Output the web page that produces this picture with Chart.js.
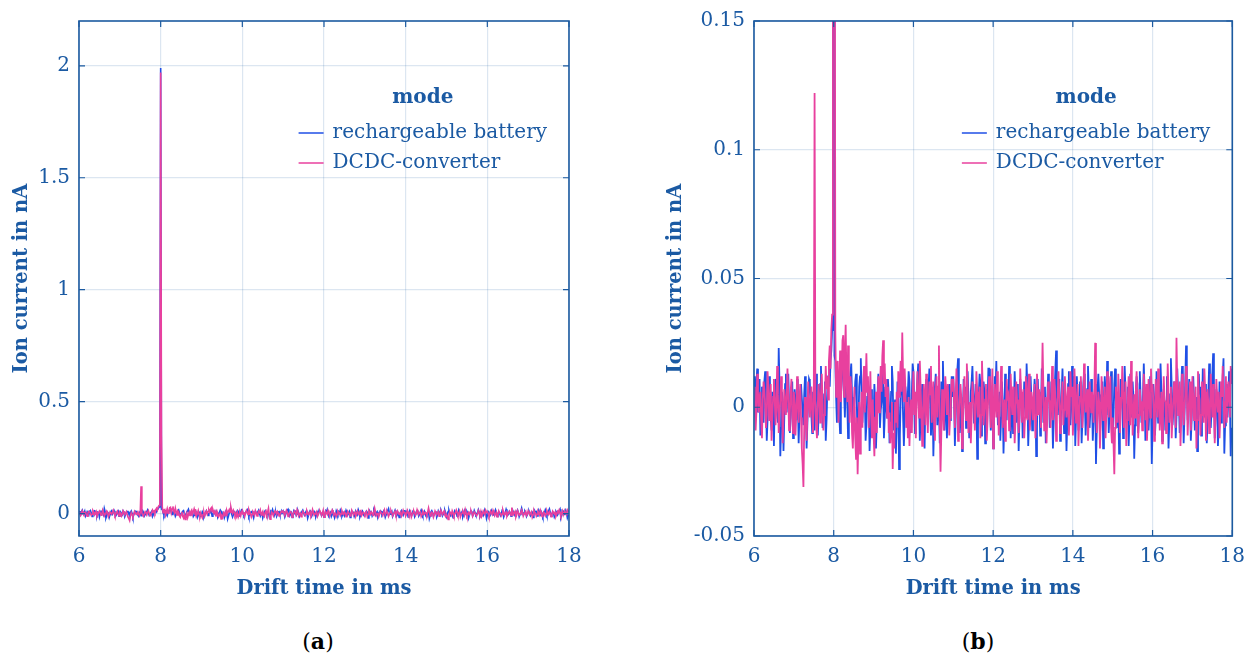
<!DOCTYPE html>
<html>
<head>
<meta charset="utf-8">
<title>Ion current vs drift time</title>
<script src="https://cdn.jsdelivr.net/npm/chart.js@4.4.1/dist/chart.umd.min.js"></script>
<style>
  html, body { margin: 0; padding: 0; background: #fff; }
  #wrap { position: relative; width: 1254px; height: 660px; overflow: hidden; }
  canvas { position: absolute; top: 0; }
  #chartA { left: 0; }
  #chartB { left: 627px; }
  .caption { position: absolute; top: 628px; width: 80px; text-align: center;
             font: 22px 'DejaVu Serif'; color: #000; }
</style>
</head>
<body>
<div id="wrap">
  <canvas id="chartA" width="627" height="610"></canvas>
  <canvas id="chartB" width="627" height="610"></canvas>
  <div class="caption" style="left:278px">(<b>a</b>)</div>
  <div class="caption" style="left:938px">(<b>b</b>)</div>
</div>
<script>
// Sampling of the drift time axis (ms), one row below = 0.5 ms
const driftStart = 6.0;
const driftStep = 0.02;

// Ion current in nA, rechargeable battery supply
const batteryCurrent = [
  0.012, 0.004, -0.004, 0.009, 0.015, -0.002, 0.002, 0.011, -0.011, -0.003, 0.008, 0.001, -0.006, 0.010, 0.014, 0.003, -0.013, -0.005, 0.005, 0.012, 0.010, -0.004, -0.009, 0.006, 0.003,
  -0.015, 0.002, 0.011, 0.007, 0.002, -0.006, 0.023, 0.009, -0.019, -0.008, 0.006, 0.001, -0.017, -0.004, 0.009, 0.013, -0.002, 0.005, 0.013, 0.002, -0.010, -0.003, 0.004, 0.010, -0.012,
  -0.006, 0.007, 0.001, -0.005, 0.011, 0.004, -0.014, -0.003, 0.003, 0.009, 0.009, -0.002, -0.007, 0.005, 0.012, 0.001, -0.016, -0.006, 0.004, 0.011, 0.010, 0.002, -0.003, -0.010, 0.006,
  0.002, -0.009, 0.004, 0.013, 0.005, -0.011, -0.004, 0.002, 0.009, 0.016, 0.003, -0.008, -0.002, 0.005, 0.010, -0.013, -0.005, 0.007, 0.012, 0.015, 0.008, 0.018, 0.022, 0.030, 0.035,
  1.990, 0.020, 0.018, 0.004, -0.006, 0.010, 0.012, -0.003, -0.010, 0.005, 0.009, 0.016, 0.020, 0.006, -0.004, 0.008, 0.014, 0.002, -0.012, -0.004, 0.006, 0.013, 0.017, 0.004, -0.009,
  -0.002, 0.003, 0.010, 0.013, 0.001, -0.015, -0.006, 0.008, 0.012, 0.019, 0.004, -0.006, 0.002, 0.011, 0.006, -0.013, -0.007, 0.004, 0.010, 0.003, -0.017, -0.008, 0.007, 0.002, -0.011,
  -0.005, 0.009, 0.002, -0.016, -0.006, 0.005, 0.013, 0.006, -0.008, -0.001, 0.002, 0.015, 0.008, -0.012, -0.004, 0.007, 0.001, -0.004, 0.011, 0.005, -0.014, -0.006, 0.006, 0.016, 0.010,
  -0.009, -0.002, 0.003, -0.018, -0.007, 0.010, 0.004, -0.024, -0.011, 0.004, 0.009, 0.012, -0.003, -0.015, -0.005, 0.008, 0.003, -0.006, 0.005, 0.014, 0.010, -0.010, -0.002, 0.005, 0.017,
  0.014, 0.001, -0.010, -0.003, 0.005, 0.011, 0.017, 0.004, -0.013, -0.004, 0.002, 0.009, 0.009, -0.007, -0.016, 0.003, 0.011, 0.005, -0.004, 0.008, 0.015, 0.002, -0.011, -0.002, 0.006,
  -0.019, -0.006, 0.008, 0.013, 0.004, -0.007, 0.001, 0.003, -0.014, -0.003, 0.010, 0.006, 0.018, 0.005, -0.009, 0.002, 0.005, -0.012, -0.002, 0.007, 0.009, -0.005, -0.003, 0.012, 0.004,
  0.012, 0.003, -0.015, -0.004, 0.008, 0.014, 0.019, 0.006, -0.010, -0.002, 0.004, -0.017, -0.006, 0.011, 0.002, 0.008, -0.008, -0.001, 0.014, 0.004, -0.012, -0.003, 0.006, 0.010, 0.016,
  0.005, -0.006, 0.002, 0.009, 0.004, -0.020, -0.007, 0.005, 0.013, 0.009, -0.011, -0.002, 0.003, 0.010, 0.006, -0.014, -0.004, 0.007, 0.001, 0.015, 0.015, 0.004, -0.009, -0.001, 0.004,
  -0.016, -0.005, 0.012, 0.006, 0.018, 0.003, -0.007, 0.001, 0.006, -0.013, -0.004, 0.010, 0.002, -0.018, -0.006, 0.013, 0.004, -0.005, 0.008, 0.002, 0.016, 0.007, -0.012, -0.003, 0.003,
  -0.010, -0.001, 0.014, 0.005, -0.006, 0.002, 0.009, -0.017, -0.005, 0.011, 0.003, 0.005, -0.012, -0.002, 0.010, 0.004, -0.004, 0.017, 0.007, -0.015, -0.005, 0.007, 0.012, 0.003, -0.009,
  -0.003, 0.003, 0.011, 0.006, -0.019, -0.008, 0.011, 0.002, 0.006, -0.011, -0.003, 0.015, 0.005, -0.006, 0.003, 0.008, -0.014, -0.004, 0.004, 0.013, 0.010, -0.008, -0.002, 0.010, 0.001,
  -0.016, -0.005, 0.005, 0.014, 0.022, 0.004, -0.003, 0.007, 0.011, -0.013, -0.004, 0.006, 0.015, 0.002, -0.010, -0.002, 0.002, -0.017, -0.006, 0.009, 0.014, 0.003, -0.007, 0.004, 0.016,
  -0.005, 0.008, 0.012, -0.015, -0.004, 0.012, 0.003, -0.009, -0.002, 0.010, 0.006, -0.014, -0.005, 0.008, 0.013, 0.004, -0.011, -0.003, 0.007, 0.016, 0.006, -0.008, -0.001, 0.011, 0.003,
  -0.013, -0.005, 0.004, 0.009, -0.022, -0.009, 0.007, 0.013, 0.005, -0.011, -0.003, 0.005, 0.010, -0.016, -0.006, 0.012, 0.004, -0.003, 0.018, 0.006, -0.010, -0.002, 0.006, 0.014, 0.003,
  -0.014, -0.004, 0.009, 0.015, 0.002, -0.008, -0.001, 0.002, -0.018, -0.006, 0.011, 0.004, 0.004, -0.012, -0.003, 0.016, 0.007, -0.006, 0.001, 0.008, -0.015, -0.005, 0.013, 0.004, -0.004,
  0.010, 0.003, -0.020, -0.007, 0.006, 0.012, 0.009, -0.010, -0.002, 0.014, 0.004, -0.006, -0.001, 0.004, 0.017, 0.006, -0.013, -0.004, 0.007, 0.002, -0.009, -0.001, 0.012, 0.003, -0.022,
  -0.008, 0.009, 0.003, -0.011, -0.004, 0.014, 0.006, -0.006, 0.001, 0.004, 0.017, 0.007, -0.013, -0.004, 0.007, 0.002, -0.009, -0.001, 0.012, 0.005, -0.016, -0.006, 0.005, 0.019, 0.008,
  -0.007, -0.002, 0.010, 0.004, -0.012, -0.004, 0.015, 0.006, 0.003, -0.010, -0.003, 0.008, 0.016, 0.005, -0.014, -0.004, 0.010, 0.024, 0.007, -0.005, 0.002, 0.011, 0.004, -0.013, -0.005,
  0.006, 0.012, 0.003, -0.009, -0.002, 0.004, -0.017, -0.006, 0.013, 0.005, 0.008, -0.011, -0.003, 0.015, 0.006, -0.004, 0.009, 0.002, -0.014, -0.005, 0.005, 0.017, 0.007, -0.008, -0.001,
  0.013, 0.021, 0.006, -0.012, -0.003, 0.007, 0.003, -0.015, -0.006, 0.010, 0.004, -0.006, 0.002, 0.012, 0.019, -0.018, -0.007, 0.004, 0.009, -0.004, 0.002, 0.014, 0.003, -0.019, -0.008,
  -0.010
];

// Ion current in nA, DCDC-converter supply
const converterCurrent = [
  0.008, 0.001, -0.009, -0.002, 0.013, 0.006, -0.002, 0.004, 0.006, -0.005, -0.012, 0.003, 0.010, 0.007, 0.001, -0.008, -0.003, 0.014, 0.008, -0.005, 0.002, 0.009, -0.013, -0.004, 0.004,
  0.011, 0.003, -0.007, -0.001, 0.016, 0.005, -0.010, -0.002, 0.003, 0.012, 0.006, -0.014, -0.005, 0.007, 0.002, -0.003, 0.005, 0.015, 0.004, -0.009, -0.002, 0.006, 0.011, -0.004, -0.010,
  0.006, 0.001, -0.011, -0.003, 0.012, 0.004, -0.006, 0.002, 0.009, -0.004, -0.016, -0.022, -0.031, -0.008, 0.004, -0.005, -0.013, -0.002, 0.010, 0.003, -0.004, 0.002, 0.008, -0.003, -0.010,
  0.004, 0.122, 0.002, -0.007, -0.012, 0.001, 0.009, 0.003, -0.006, 0.005, 0.013, 0.002, -0.009, -0.003, 0.004, 0.016, 0.007, 0.012, 0.003, 0.018, 0.024, 0.015, 0.030, 0.036, 0.045,
  1.970, 0.350, 0.030, 0.004, 0.016, 0.018, -0.006, 0.008, 0.022, 0.002, 0.010, 0.026, 0.028, 0.004, 0.020, 0.032, 0.011, 0.002, 0.024, 0.008, -0.006, 0.012, 0.008, -0.010, -0.016,
  -0.004, 0.008, -0.012, -0.020, -0.004, -0.026, -0.012, 0.002, -0.018, -0.004, 0.006, -0.008, 0.010, 0.016, -0.002, 0.008, 0.021, 0.006, 0.012, -0.008, 0.002, 0.014, -0.004, -0.012, 0.003,
  -0.010, -0.019, -0.004, 0.006, -0.010, 0.003, 0.012, -0.002, 0.008, 0.016, 0.006, 0.020, 0.026, 0.009, 0.017, 0.004, 0.011, -0.004, 0.008, -0.010, -0.002, -0.014, -0.006, 0.002, -0.024,
  -0.010, -0.016, 0.002, -0.006, 0.006, -0.008, 0.014, 0.004, 0.010, 0.018, 0.006, 0.029, 0.012, 0.002, 0.015, 0.006, -0.008, 0.002, -0.012, 0.004, -0.015, -0.004, 0.003, -0.010, 0.006,
  0.014, -0.003, 0.006, -0.012, 0.002, 0.014, 0.006, -0.004, 0.018, 0.008, -0.002, -0.015, -0.004, 0.009, 0.003, -0.007, 0.013, 0.004, -0.010, 0.001, 0.010, 0.005, 0.016, -0.006, 0.003,
  0.010, -0.008, -0.013, 0.006, 0.012, -0.004, 0.008, 0.024, -0.006, -0.025, -0.010, 0.007, 0.001, -0.009, 0.004, 0.012, 0.006, -0.003, 0.009, 0.002, -0.011, -0.004, 0.004, 0.011, 0.006,
  0.011, 0.002, -0.008, 0.004, 0.015, 0.006, -0.013, -0.004, 0.003, 0.009, 0.004, -0.016, -0.005, 0.006, 0.012, 0.002, -0.005, 0.017, 0.008, -0.010, -0.002, 0.002, -0.014, -0.004, 0.010,
  0.005, 0.001, -0.009, -0.002, 0.014, 0.006, -0.004, 0.002, 0.008, -0.012, -0.003, 0.018, 0.007, -0.007, -0.001, 0.003, 0.009, -0.013, -0.005, 0.006, 0.012, 0.004, -0.008, 0.002, 0.015,
  -0.016, -0.006, 0.009, 0.002, -0.004, 0.014, 0.005, -0.011, -0.003, 0.006, 0.016, 0.007, -0.008, -0.001, 0.003, -0.013, -0.004, 0.011, 0.004, 0.005, -0.009, -0.002, 0.013, 0.003, -0.003,
  0.008, 0.002, -0.014, -0.005, 0.010, 0.003, 0.001, -0.010, -0.003, 0.015, 0.006, -0.006, 0.002, 0.007, -0.012, -0.004, 0.012, 0.004, -0.005, 0.009, 0.013, -0.009, -0.002, 0.006, 0.003,
  -0.005, 0.004, 0.009, -0.012, -0.003, 0.013, 0.005, -0.003, 0.007, 0.002, -0.008, 0.006, 0.025, 0.008, -0.009, -0.002, 0.004, -0.014, -0.004, 0.010, 0.003, 0.002, -0.008, 0.005, 0.016,
  -0.005, 0.003, 0.011, 0.002, -0.013, -0.004, 0.006, 0.014, 0.004, -0.010, -0.002, 0.003, 0.010, -0.007, -0.001, 0.012, 0.005, -0.004, 0.002, 0.008, -0.011, -0.003, 0.014, 0.004, 0.008,
  -0.011, -0.003, 0.015, 0.006, -0.006, 0.002, 0.009, -0.015, -0.005, 0.004, 0.012, 0.003, -0.008, -0.001, 0.017, 0.006, -0.002, 0.003, 0.007, -0.013, -0.004, 0.010, 0.003, -0.002, 0.006,
  0.003, -0.006, 0.008, 0.025, 0.007, -0.010, -0.002, 0.006, 0.002, -0.016, -0.005, 0.012, 0.004, -0.005, 0.002, 0.008, -0.012, -0.003, 0.014, 0.004, -0.004, 0.006, 0.012, -0.008, -0.014,
  -0.004, -0.014, -0.026, -0.008, 0.008, 0.002, -0.006, 0.013, 0.004, -0.010, -0.002, 0.004, 0.016, 0.006, -0.008, -0.001, 0.010, -0.015, -0.005, 0.003, 0.012, 0.004, -0.007, 0.018, 0.005,
  -0.011, -0.003, 0.005, -0.004, 0.006, 0.014, 0.004, -0.012, -0.003, 0.007, 0.002, 0.002, -0.009, -0.002, 0.013, 0.004, -0.005, 0.009, -0.013, -0.004, 0.011, 0.003, -0.004, 0.015, 0.006,
  0.009, 0.002, -0.013, -0.004, 0.011, 0.004, -0.004, 0.015, 0.006, -0.009, -0.002, 0.006, -0.014, -0.004, 0.012, 0.003, 0.002, -0.010, -0.002, 0.017, 0.006, -0.006, 0.001, 0.008, -0.012,
  -0.004, 0.003, 0.010, 0.002, -0.008, 0.027, 0.009, -0.003, 0.004, 0.010, -0.015, -0.005, 0.013, 0.004, -0.007, -0.001, 0.005, 0.016, 0.006, -0.011, -0.002, 0.004, 0.010, -0.009, -0.003,
  0.012, 0.004, -0.005, 0.002, 0.008, -0.016, -0.005, 0.014, 0.005, 0.003, -0.011, -0.003, 0.010, 0.003, -0.006, 0.015, 0.006, -0.013, -0.004, 0.007, 0.001, -0.010, -0.002, 0.013, 0.004,
  -0.004, 0.009, 0.002, -0.014, -0.004, 0.011, 0.004, -0.002, 0.006, -0.012, -0.003, 0.010, 0.004, 0.016, 0.006, -0.008, 0.002, 0.012, -0.006, 0.004, 0.010, 0.003, -0.004, 0.016, 0.009,
  0.015
];

const seriesLabels = ['rechargeable battery', 'DCDC-converter'];
const legendTitle = 'mode';

const xTicks = [6, 8, 10, 12, 14, 16, 18];
const yTicksA = [0, 0.5, 1, 1.5, 2];
const yTickLabelsA = ['0', '0.5', '1', '1.5', '2'];
const yTicksB = [-0.05, 0, 0.05, 0.1, 0.15];
const yTickLabelsB = ['-0.05', '0', '0.05', '0.1', '0.15'];

const AXIS_COLOR = '#1c5aa0';
const TEXT_COLOR = '#1b5aa3';
const GRID_COLOR = 'rgba(40, 100, 170, 0.16)';
const BLUE = '#1f4fe6';
const PINK = '#e8409e';
const FONT = "'DejaVu Serif'";

Chart.defaults.font.family = FONT;

function toPoints(values) {
    return values.map(function(v, i) {
        return { x: +(driftStart + i * driftStep).toFixed(2), y: v };
    });
}

// Box around the plot area with inward tick marks on all four sides
const framePlugin = {
    id: 'frame',
    afterDatasetsDraw(chart) {
        const { ctx, chartArea: a, scales } = chart;
        const len = 6;
        ctx.save();
        ctx.strokeStyle = AXIS_COLOR;
        ctx.lineWidth = 1.2;
        ctx.beginPath();
        scales.x.ticks.forEach(function(t) {
            const px = scales.x.getPixelForValue(t.value);
            ctx.moveTo(px, a.bottom); ctx.lineTo(px, a.bottom - len);
            ctx.moveTo(px, a.top); ctx.lineTo(px, a.top + len);
        });
        scales.y.ticks.forEach(function(t) {
            const py = scales.y.getPixelForValue(t.value);
            ctx.moveTo(a.left, py); ctx.lineTo(a.left + len, py);
            ctx.moveTo(a.right, py); ctx.lineTo(a.right - len, py);
        });
        ctx.stroke();
        ctx.lineWidth = 1.6;
        ctx.strokeRect(a.left, a.top, a.right - a.left, a.bottom - a.top);
        ctx.restore();
    }
};

// Boxless legend in the upper right corner with a bold title
const modeLegendPlugin = {
    id: 'modeLegend',
    afterDraw(chart) {
        const { ctx, chartArea: a } = chart;
        const sets = chart.data.datasets;
        ctx.save();
        ctx.font = '20px ' + FONT;
        const textW = Math.max.apply(null, sets.map(function(d) { return ctx.measureText(d.label).width; }));
        const textX = a.right - 22 - textW;
        const lineX = textX - 9 - 25;
        ctx.textBaseline = 'middle';
        ctx.fillStyle = TEXT_COLOR;
        sets.forEach(function(d, i) {
            const yy = a.top + 112 + i * 30;
            ctx.strokeStyle = d.borderColor;
            ctx.lineWidth = 1.5;
            ctx.beginPath();
            ctx.moveTo(lineX, yy);
            ctx.lineTo(lineX + 25, yy);
            ctx.stroke();
            ctx.fillText(d.label, textX, yy);
        });
        ctx.font = 'bold 20px ' + FONT;
        ctx.textAlign = 'center';
        ctx.fillText(legendTitle, (lineX + textX + textW) / 2, a.top + 77);
        ctx.restore();
    }
};

function makeChart(canvasId, cfg) {
    const canvas = document.getElementById(canvasId);
    if (!canvas) {
        console.error('Canvas not found: ' + canvasId);
        return null;
    }
    return new Chart(canvas.getContext('2d'), {
        type: 'line',
        data: {
            datasets: [
                {
                    label: seriesLabels[0],
                    data: toPoints(batteryCurrent),
                    borderColor: BLUE,
                    borderWidth: cfg.lineWidth,
                    order: 2
                },
                {
                    label: seriesLabels[1],
                    data: toPoints(converterCurrent),
                    borderColor: PINK,
                    borderWidth: cfg.lineWidth,
                    order: 1
                }
            ]
        },
        options: {
            responsive: false,
            animation: false,
            events: [],
            layout: { padding: { top: 19, right: cfg.padRight, bottom: 0, left: 0 } },
            elements: { point: { radius: 0 }, line: { tension: 0 } },
            plugins: {
                legend: { display: false },
                tooltip: { enabled: false }
            },
            scales: {
                x: {
                    type: 'linear',
                    min: 6,
                    max: 18,
                    afterBuildTicks: function(s) { s.ticks = xTicks.map(function(v) { return { value: v }; }); },
                    afterFit: function(s) { s.height = 74; },
                    border: { display: false },
                    grid: { color: GRID_COLOR, drawTicks: false, lineWidth: 1.2 },
                    ticks: { color: TEXT_COLOR, font: { size: 20 }, padding: 9, maxRotation: 0 },
                    title: {
                        display: true,
                        text: 'Drift time in ms',
                        color: TEXT_COLOR,
                        font: { size: 19.5, weight: 'bold' },
                        padding: { top: 0, bottom: 9 }
                    }
                },
                y: {
                    type: 'linear',
                    min: cfg.yMin,
                    max: cfg.yMax,
                    afterBuildTicks: function(s) { s.ticks = cfg.yTicks.map(function(v) { return { value: v }; }); },
                    afterFit: function(s) { s.width = cfg.yWidth; },
                    border: { display: false },
                    grid: { color: GRID_COLOR, drawTicks: false, lineWidth: 1.2 },
                    ticks: {
                        color: TEXT_COLOR,
                        font: { size: 20 },
                        padding: 9,
                        callback: function(value, index) { return cfg.yLabels[index]; }
                    },
                    title: {
                        display: true,
                        text: 'Ion current in nA',
                        color: TEXT_COLOR,
                        font: { size: 19.5, weight: 'bold' },
                        padding: { top: cfg.yTitlePad, bottom: 0 }
                    }
                }
            }
        },
        plugins: [framePlugin, modeLegendPlugin]
    });
}

document.addEventListener('DOMContentLoaded', function() {
    try {
        // (a) full range, showing the main peak
        makeChart('chartA', {
            yMin: -0.1, yMax: 2.2,
            yTicks: yTicksA, yLabels: yTickLabelsA,
            yWidth: 79, yTitlePad: 10, padRight: 58, lineWidth: 1.6
        });
        // (b) zoom on the baseline noise
        makeChart('chartB', {
            yMin: -0.05, yMax: 0.15,
            yTicks: yTicksB, yLabels: yTickLabelsB,
            yWidth: 127, yTitlePad: 37, padRight: 20, lineWidth: 1.8
        });
    } catch (error) {
        console.error('Error drawing charts:', error);
    }
});
</script>
</body>
</html>
